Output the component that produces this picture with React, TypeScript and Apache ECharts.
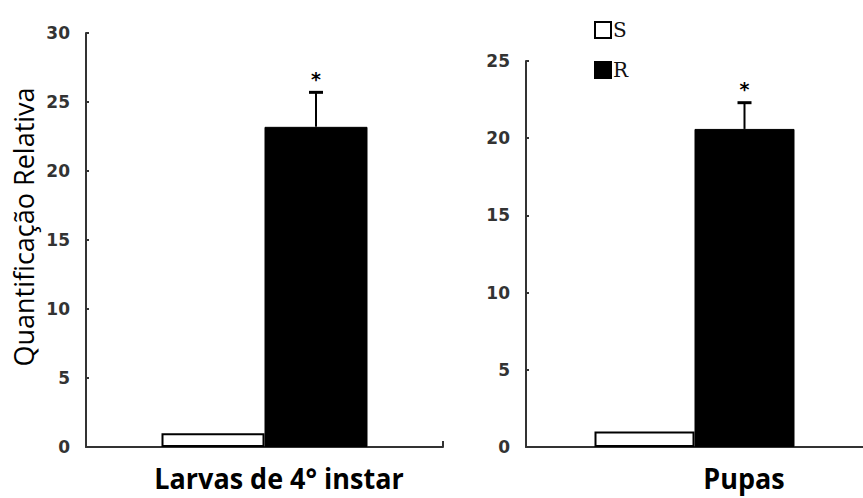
import React, { useEffect, useRef } from "react";
import * as echarts from "echarts";

const panels = ["Larvas de 4° instar", "Pupas"];
const sValues = [1.0, 1.0];
const rValues = [23.2, 20.6];
const rErrors = [2.5, 1.7];
const stars = ["*", "*"];
const yMax = [30, 25];
const yInterval = 5;
const legendNames = ["S", "R"];
const yTitle = "Quantificação Relativa";

const BAR_W = [103, 100];

export default function App() {
  const ref = useRef<HTMLDivElement>(null);
  useEffect(() => {
    const chart = echarts.init(ref.current!, null, { renderer: "svg" });
    const axisLine = { show: true, lineStyle: { color: "#333", width: 2 } };
    const labelStyle = {
      color: "#333",
      fontWeight: "bold" as const,
      fontSize: 17,
      fontFamily: "DejaVu Sans",
    };
    const errSeries = (i: number) => ({
      type: "custom",
      xAxisIndex: i,
      yAxisIndex: i,
      silent: true,
      z: 5,
      data: [[0, rValues[i], rErrors[i], stars[i]]],
      renderItem: (params: any, api: any) => {
        const top = api.coord([0, api.value(1) + api.value(2)]);
        const base = api.coord([0, api.value(1)]);
        const x = top[0] + BAR_W[i] / 2;
        return {
          type: "group",
          children: [
            { type: "line", shape: { x1: x, y1: base[1], x2: x, y2: top[1] }, style: { stroke: "#000", lineWidth: 2 } },
            { type: "line", shape: { x1: x - 7, y1: top[1], x2: x + 7, y2: top[1] }, style: { stroke: "#000", lineWidth: 3 } },
            {
              type: "text",
              x: x,
              y: top[1] - 4,
              style: {
                text: String(api.value(3)),
                fill: "#000",
                font: "bold 19px 'DejaVu Sans'",
                align: "center",
                verticalAlign: "bottom",
              },
            },
          ],
        };
      },
    });
    chart.setOption({
      animation: false,
      backgroundColor: "#fff",
      legend: {
        left: 589,
        top: 15,
        orient: "vertical",
        itemWidth: 16,
        itemHeight: 16,
        itemGap: 20,
        icon: "rect",
        data: legendNames,
        textStyle: { fontFamily: "DejaVu Serif", fontSize: 20, color: "#111", padding: [0, 0, 0, -3] },
      },
      grid: [
        { left: 86, width: 357, top: 33, bottom: 51 },
        { left: 526, right: 0, top: 61, bottom: 51 },
      ],
      xAxis: [0, 1].map((i) => ({
        type: "category",
        gridIndex: i,
        data: [panels[i]],
        axisLine,
        axisTick: { show: i === 0, inside: true, length: 6, lineStyle: { color: "#333", width: 2 } },
        axisLabel: { show: false },
      })),
      yAxis: [0, 1].map((i) => ({
        type: "value",
        gridIndex: i,
        min: 0,
        max: yMax[i],
        interval: yInterval,
        axisLine,
        axisTick: { show: true, inside: true, length: 3, lineStyle: { color: "#333", width: 2 } },
        splitLine: { show: false },
        axisLabel: { ...labelStyle, margin: 16 },
      })),
      series: [
        ...[0, 1].flatMap((i) => [
          {
            name: "S",
            type: "bar",
            xAxisIndex: i,
            yAxisIndex: i,
            barWidth: BAR_W[i],
            barGap: "0%",
            data: [sValues[i]],
            itemStyle: { color: "#fff", borderColor: "#000", borderWidth: 2 },
          },
          {
            name: "R",
            type: "bar",
            xAxisIndex: i,
            yAxisIndex: i,
            barWidth: BAR_W[i],
            barGap: "0%",
            data: [rValues[i]],
            itemStyle: { color: "#000", borderColor: "#000", borderWidth: 1 },
          },
        ]),
        errSeries(0),
        errSeries(1),
      ],
      graphic: [
        {
          type: "text",
          x: 23,
          y: 227,
          rotation: Math.PI / 2,
          style: {
            text: yTitle,
            font: "27px 'Open Sans'",
            fill: "#000",
            align: "center",
            verticalAlign: "middle",
          },
        },
        {
          type: "text",
          x: 279,
          y: 463,
          scaleX: 0.93,
          style: {
            text: panels[0],
            font: "bold 29px 'Open Sans'",
            fill: "#000",
            align: "center",
          },
        },
        {
          type: "text",
          x: 744,
          y: 463,
          scaleX: 0.93,
          style: {
            text: panels[1],
            font: "bold 29px 'Open Sans'",
            fill: "#000",
            align: "center",
          },
        },
      ],
    });
    return () => chart.dispose();
  }, []);
  return <div ref={ref} style={{ width: 863, height: 498, position: "absolute", left: 0, top: 0 }} />;
}
